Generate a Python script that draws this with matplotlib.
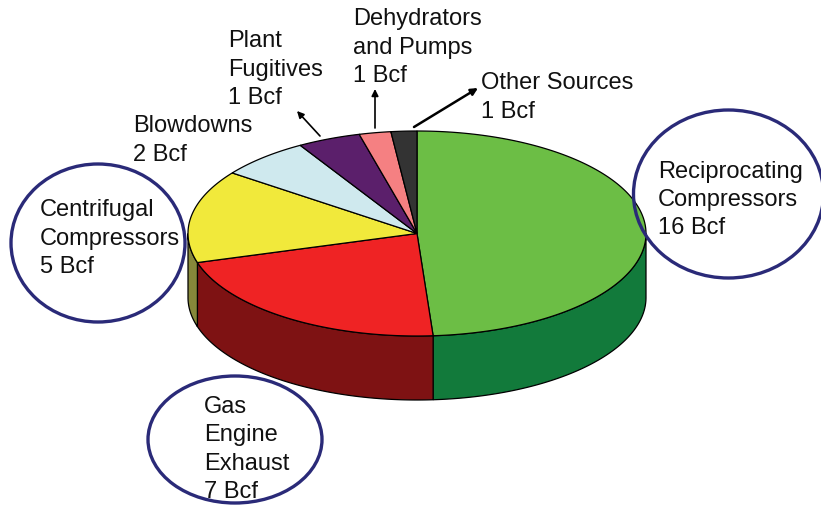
import numpy as np
import matplotlib
matplotlib.use("Agg")
import matplotlib.pyplot as plt
from matplotlib.patches import Ellipse, Polygon

plt.rcParams['font.family'] = ['Liberation Sans', 'DejaVu Sans']

# Sector shares (clockwise from 12 o'clock)
categories = ["Reciprocating Compressors", "Gas Engine Exhaust", "Centrifugal Compressors",
              "Blowdowns", "Plant Fugitives", "Dehydrators and Pumps", "Other Sources"]
shares = [16.13, 7.11, 4.83, 2.12, 1.47, 0.74, 0.60]
top_colors = ["#6CBE45", "#EF2324", "#F1E93B", "#CFE9EE", "#5B1F6B", "#F58082", "#333333"]
wall_colors = ["#127A3B", "#7E1213", "#86883A", "#8A9A9E", "#3A1445", "#A05050", "#222222"]

W, H = 821, 506
fig = plt.figure(figsize=(W/100, H/100), dpi=100)
ax = fig.add_axes([0, 0, 1, 1])
ax.set_xlim(0, W); ax.set_ylim(H, 0); ax.axis('off')

cx, cy, rx, ry, depth = 417, 234.5, 229, 102.5, 64

def pt(theta):
    return cx + rx*np.sin(theta), cy - ry*np.cos(theta)

edges = np.concatenate([[0], np.cumsum(shares)]) / sum(shares) * 2*np.pi

# side walls (only the front half, theta in 90..270 deg)
for a, b, c in zip(edges[:-1], edges[1:], wall_colors):
    lo, hi = max(a, np.pi/2), min(b, 3*np.pi/2)
    if hi <= lo:
        continue
    t = np.linspace(lo, hi, 120)
    x, y = pt(t)
    verts = np.r_[np.c_[x, y], np.c_[x[::-1], y[::-1] + depth]]
    ax.add_patch(Polygon(verts, closed=True, fc=c, ec='black', lw=0.9, zorder=1))

# top sectors
for a, b, c in zip(edges[:-1], edges[1:], top_colors):
    t = np.linspace(a, b, 160)
    x, y = pt(t)
    verts = np.r_[[[cx, cy]], np.c_[x, y]]
    ax.add_patch(Polygon(verts, closed=True, fc=c, ec='black', lw=0.9, zorder=2))

# labels
fs = 17
labels = [
    (658, 171.5, "Reciprocating\nCompressors\n16 Bcf"),
    (204, 407, "Gas\nEngine\nExhaust\n7 Bcf"),
    (40, 210, "Centrifugal\nCompressors\n5 Bcf"),
    (133, 126, "Blowdowns\n2 Bcf"),
    (228, 41, "Plant\nFugitives\n1 Bcf"),
    (353, 19, "Dehydrators\nand Pumps\n1 Bcf"),
    (481, 83, "Other Sources\n1 Bcf"),
]
for x, y, s in labels:
    for i, l in enumerate(s.split("\n")):
        ax.text(x, y + i*28.5, l, fontsize=fs, va='center', ha='left', color='#111111', zorder=5)

# circles
for x, y, w, h in [(728.5, 195, 190, 168), (98, 244, 174, 158), (235, 440.5, 174, 127)]:
    ax.add_patch(Ellipse((x, y), w, h, fc='none', ec='#2A2A78', lw=2.4, zorder=6, clip_on=True))

# arrows
arrow = dict(arrowstyle='-|>', color='black', lw=1.2, mutation_scale=10, shrinkA=0, shrinkB=0)
ax.annotate("", xy=(297, 112), xytext=(320, 137), arrowprops=arrow, zorder=7)
ax.annotate("", xy=(375, 90), xytext=(375, 129), arrowprops=arrow, zorder=7)
ax.annotate("", xy=(478, 89), xytext=(414, 128), arrowprops=dict(arrow, lw=1.8), zorder=7)

fig.savefig("out.png", dpi=100)
